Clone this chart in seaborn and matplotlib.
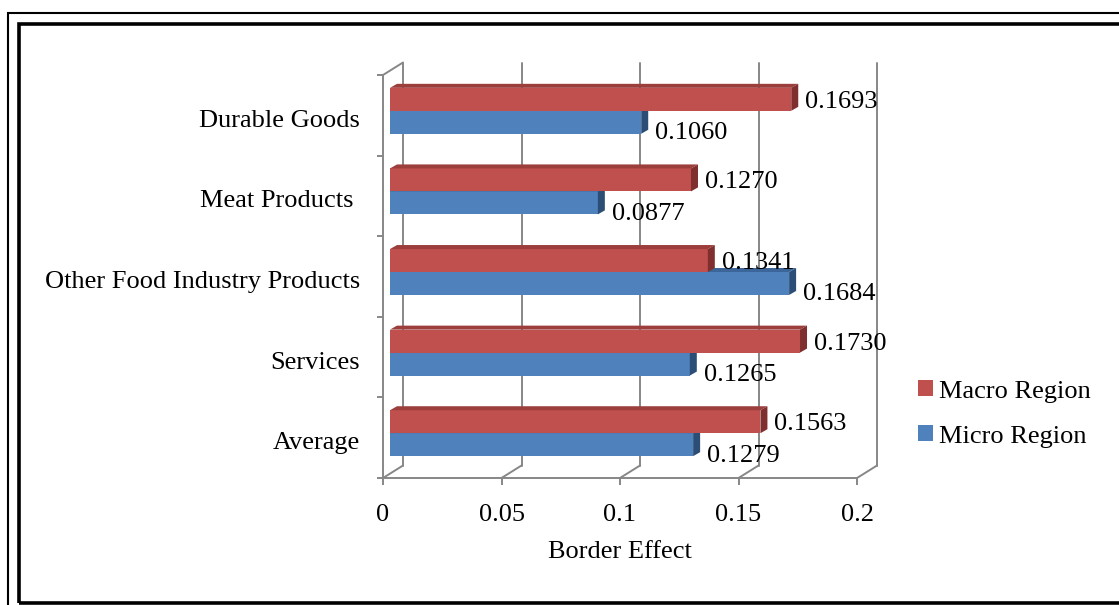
import numpy as np
import pandas as pd
import matplotlib
matplotlib.use("Agg")
import matplotlib.pyplot as plt
import seaborn as sns
from matplotlib.transforms import ScaledTranslation, IdentityTransform
from matplotlib.patches import Polygon, Rectangle, Patch
from matplotlib.lines import Line2D
from matplotlib.colors import to_hex

# ---------------- data ----------------
categories = ["Durable Goods", "Meat Products ", "Other Food Industry Products", "Services", "Average"]
series = ["Macro Region", "Micro Region"]
macro = [0.1693, 0.1270, 0.1341, 0.1730, 0.1563]
micro = [0.1060, 0.0877, 0.1684, 0.1265, 0.1279]
xticks = [0, 0.05, 0.1, 0.15, 0.2]
xticklabels = ["0", "0.05", "0.1", "0.15", "0.2"]
x_title = "Border Effect"

# ---------------- style ----------------
W, H = 1119, 605
sns.set_theme(style="white")
plt.rcParams["font.family"] = ["Liberation Serif", "DejaVu Serif"]
plt.rcParams["text.color"] = "black"
plt.rcParams["axes.labelcolor"] = "black"
plt.rcParams["xtick.labelcolor"] = "black"
plt.rcParams["ytick.labelcolor"] = "black"
FS = 19
GREY = "#878787"
front_colors = {"Macro Region": "#C0504D", "Micro Region": "#4F81BD"}
top_colors = {"Macro Region": "#9C3E3B", "Micro Region": "#3C6699"}
side_colors = {"Macro Region": "#7F2F2D", "Micro Region": "#2C4D75"}

fig = plt.figure(figsize=(W / 100, H / 100), dpi=100)
fig.patch.set_facecolor("white")
dpt = fig.dpi_scale_trans


def fx(px):
    return px / W


def fy(py):
    return 1 - py / H


# front plane of the 3-D box
ax = fig.add_axes([fx(383), fy(478), (857 - 383) / W, (478 - 75) / H])
ax.set_facecolor("none")

df = pd.DataFrame({
    "category": categories * 2,
    "value": macro + micro,
    "series": [series[0]] * len(categories) + [series[1]] * len(categories),
})

sns.barplot(data=df, y="category", x="value", hue="series", hue_order=series,
            order=categories, orient="h", palette=front_colors, saturation=1,
            width=0.57, linewidth=0, ax=ax, legend=False)

ax.set_xlim(0, 0.2)
ax.set_ylim(len(categories) - 0.5, -0.5)

# ---- perspective offsets (pixels, display coords: y up) ----
BACK = (20, 12.5)      # depth of the whole box
PLANE = (7, 4.5)       # plane where bars sit
DEPTH = (7, 4)         # thickness of the bars
bar_off = ScaledTranslation(PLANE[0] / 100, PLANE[1] / 100, dpt)

fig.canvas.draw()
to_disp = ax.transData.transform

for p in list(ax.patches):
    col = to_hex(p.get_facecolor())
    name = series[0] if col.lower() == front_colors[series[0]].lower() else series[1]
    z = 3 if name == series[0] else 2
    p.set_transform(ax.transData + bar_off)
    p.set_zorder(z)
    bb = p.get_bbox()
    (x0, y0), (x1, y1) = to_disp([(bb.x0, bb.y0), (bb.x1, bb.y1)])
    x0, x1 = min(x0, x1) + PLANE[0], max(x0, x1) + PLANE[0]
    ylo, yhi = min(y0, y1) + PLANE[1], max(y0, y1) + PLANE[1]
    dx, dy = DEPTH
    top = Polygon([(x0, yhi), (x1, yhi), (x1 + dx, yhi + dy), (x0 + dx, yhi + dy)],
                  closed=True, transform=IdentityTransform(), facecolor=top_colors[name],
                  edgecolor="none", zorder=z, clip_on=False)
    side = Polygon([(x1, ylo), (x1 + dx, ylo + dy), (x1 + dx, yhi + dy), (x1, yhi)],
                   closed=True, transform=IdentityTransform(), facecolor=side_colors[name],
                   edgecolor="none", zorder=z, clip_on=False)
    ax.add_patch(top)
    ax.add_patch(side)
    # data label
    val = bb.x1
    yc = (bb.y0 + bb.y1) / 2
    ny = PLANE[1] - 2.5 if name == series[0] else PLANE[1] - 11
    ax.text(val, yc, f"{val:.4f}", fontsize=FS, ha="left", va="center", zorder=5,
            color="black",
            transform=ax.transData + ScaledTranslation((PLANE[0] + 14) / 100, ny / 100, dpt),
            clip_on=False)

# ---- back wall gridlines, floor diagonals, left wall ----
ybot, ytop = ax.get_ylim()
for xt in xticks:
    (fxb, fyb), (fxt, fyt) = to_disp([(xt, ybot), (xt, ytop)])
    ax.add_line(Line2D([fxb + BACK[0], fxt + BACK[0]], [fyb + BACK[1], fyt + BACK[1]],
                       transform=IdentityTransform(), color=GREY, lw=1.4, zorder=1, clip_on=False))
    ax.add_line(Line2D([fxb, fxb + BACK[0]], [fyb, fyb + BACK[1]],
                       transform=IdentityTransform(), color=GREY, lw=1.4, zorder=1, clip_on=False))
(lx, ly), = to_disp([(0, ytop)])
ax.add_line(Line2D([lx, lx + BACK[0]], [ly, ly + BACK[1]], transform=IdentityTransform(),
                   color=GREY, lw=1.4, zorder=1, clip_on=False))

# ---- axes styling ----
for s in ["top", "right"]:
    ax.spines[s].set_visible(False)
for s in ["left", "bottom"]:
    ax.spines[s].set_color(GREY)
    ax.spines[s].set_linewidth(1.4)

ax.set_xticks(xticks)
ax.set_xticklabels(xticklabels, fontsize=FS)
ax.tick_params(axis="x", which="major", direction="out", length=5, width=1.4,
               color=GREY, pad=14, labelcolor="black", bottom=True)

ax.set_yticks(np.arange(-0.5, len(categories), 1.0))
ax.set_yticklabels([])
ax.set_yticks(np.arange(len(categories)), minor=True)
ax.set_yticklabels(categories, minor=True, fontsize=FS)
ax.tick_params(axis="y", which="major", direction="out", length=4.5, width=1.4,
               color=GREY, left=True)
ax.tick_params(axis="y", which="minor", length=0, pad=16.5, labelcolor="black", left=True)
for lab in ax.get_yticklabels(minor=True):
    lab.set_transform(lab.get_transform() + ScaledTranslation(0, -3 / 100, dpt))
ax.set_ylabel("")
ax.set_xlabel(x_title, fontsize=FS, labelpad=10.5, color="black")
ax.grid(False)

# ---- legend ----
handles = [Patch(facecolor=front_colors[s], edgecolor="none") for s in series]
fig.legend(handles, series, loc="center left", bbox_to_anchor=(fx(918), fy(414)),
           frameon=False, fontsize=FS, handlelength=0.55, handleheight=0.55,
           handletextpad=0.25, labelspacing=0.86, borderaxespad=0, borderpad=0,
           labelcolor="black")

# ---- double frame ----
fig.add_artist(Rectangle((7.7, -30), 1300, (H - 13) + 30, transform=IdentityTransform(),
                         fill=False, edgecolor="black", lw=1.5))
fig.add_artist(Rectangle((18.5, H - 602.5), 1300, 602.5 - 23.8, transform=IdentityTransform(),
                         fill=False, edgecolor="black", lw=2.6))

fig.savefig("out.png", dpi=100, facecolor="white")
